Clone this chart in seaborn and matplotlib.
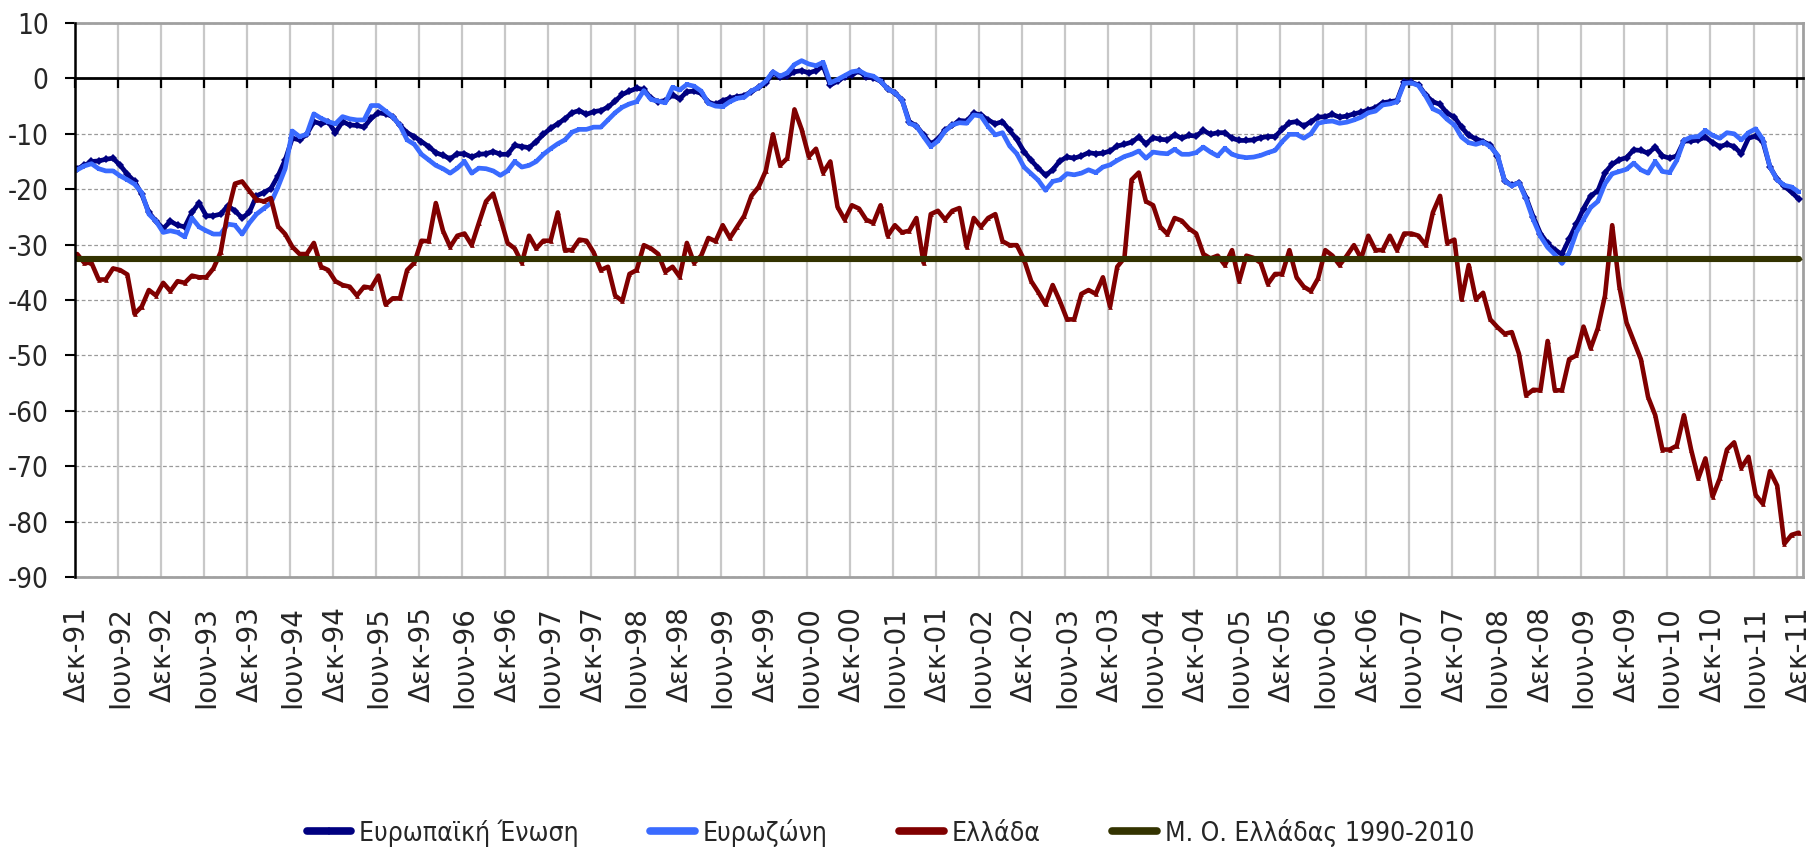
import os
import numpy as np
import pandas as pd
import matplotlib
matplotlib.use("Agg")
import matplotlib.pyplot as plt
from matplotlib import font_manager as fm
import seaborn as sns
from matplotlib.lines import Line2D

# ---------------- data (monthly, Dec-91 .. Dec-11) ----------------
eu = [
    -16.3, -15.7, -15.0, -14.9, -14.6, -14.4, -15.7, -17.3, -18.6, -20.9,
    -24.2, -25.8, -27.1, -25.8, -26.5, -26.8, -24.2, -22.5, -24.8, -24.8,
    -24.5, -23.0, -23.9, -25.2, -24.2, -21.2, -20.6, -19.9, -17.6, -14.7,
    -10.8, -11.1, -10.1, -7.8, -8.2, -7.8, -9.8, -7.8, -8.4, -8.5,
    -8.8, -7.2, -6.2, -6.4, -6.9, -8.5, -9.8, -10.5, -11.4, -12.3,
    -13.4, -13.9, -14.5, -13.6, -13.6, -14.2, -13.7, -13.6, -13.2, -13.7,
    -13.7, -12.1, -12.3, -12.5, -11.4, -10.1, -9.0, -8.2, -7.3, -6.2,
    -5.8, -6.5, -6.0, -5.8, -5.2, -4.1, -2.9, -2.3, -1.8, -2.0,
    -3.6, -4.2, -4.0, -3.0, -3.7, -2.4, -2.3, -2.7, -4.3, -4.7,
    -4.0, -3.6, -3.3, -3.1, -2.4, -1.6, -0.8, 1.0, 0.2, 0.5,
    1.2, 1.4, 1.0, 1.4, 2.2, -1.2, -0.5, 0.3, 0.7, 1.3,
    0.3, 0.1, -0.5, -1.9, -2.6, -3.9, -7.8, -8.6, -10.2, -11.8,
    -11.0, -9.3, -8.5, -7.6, -7.7, -6.3, -6.6, -7.5, -8.2, -7.8,
    -9.4, -11.0, -13.2, -14.8, -16.2, -17.5, -16.5, -14.9, -14.2, -14.4,
    -14.0, -13.4, -13.6, -13.5, -13.1, -12.2, -11.9, -11.5, -10.6, -11.8,
    -10.7, -11.0, -11.1, -10.2, -10.8, -10.3, -10.4, -9.4, -10.1, -9.8,
    -9.8, -10.8, -11.2, -11.2, -11.1, -10.7, -10.5, -10.5, -9.2, -8.0,
    -7.8, -8.6, -7.8, -7.0, -6.9, -6.5, -7.0, -6.8, -6.4, -6.1,
    -5.7, -5.3, -4.4, -4.2, -4.0, -0.6, -0.7, -1.2, -3.0, -4.2,
    -4.7, -6.3, -7.0, -8.8, -10.3, -10.9, -11.4, -12.0, -14.0, -18.5,
    -19.3, -18.8, -21.5, -25.0, -28.0, -29.8, -31.0, -31.7, -29.0, -26.3,
    -23.5, -21.2, -20.3, -17.0, -15.5, -14.7, -14.3, -12.9, -13.0, -13.5,
    -12.4, -14.0, -14.4, -14.0, -11.3, -11.3, -11.1, -10.6, -11.6, -12.3,
    -11.9, -12.3, -13.6, -10.8, -10.4, -11.4, -16.0, -18.2, -19.5, -20.5, -21.8,
]

ez = [
    -16.5, -15.8, -15.4, -16.3, -16.7, -16.7, -17.6, -18.3, -19.1, -20.6,
    -24.5, -25.8, -27.8, -27.5, -27.8, -28.6, -25.2, -26.8, -27.5, -28.1,
    -28.1, -26.3, -26.5, -28.1, -26.1, -24.5, -23.5, -22.5, -19.6, -16.3,
    -9.5, -10.5, -10.1, -6.4, -7.2, -7.8, -8.2, -6.9, -7.3, -7.5,
    -7.5, -4.9, -4.9, -5.9, -6.9, -8.5, -11.1, -11.9, -13.7, -14.7,
    -15.7, -16.3, -17.1, -16.2, -15.0, -17.1, -16.2, -16.3, -16.7, -17.5,
    -16.7, -15.0, -16.0, -15.7, -15.0, -13.7, -12.7, -11.8, -11.1, -9.7,
    -9.2, -9.2, -8.8, -8.8, -7.5, -6.2, -5.2, -4.6, -4.2, -2.2,
    -3.8, -4.1, -4.4, -1.6, -2.1, -1.1, -1.4, -2.3, -4.5, -5.0,
    -5.1, -4.2, -3.6, -3.4, -2.3, -1.6, -0.5, 1.2, 0.4, 1.0,
    2.5, 3.2, 2.6, 2.3, 2.9, -0.8, -0.2, 0.5, 1.2, 1.4,
    0.7, 0.4, -0.5, -1.9, -2.6, -3.9, -8.1, -8.6, -10.5, -12.3,
    -11.3, -9.5, -8.4, -8.0, -8.1, -6.6, -6.8, -8.7, -10.2, -9.8,
    -12.2, -13.6, -16.0, -17.2, -18.4, -20.2, -18.6, -18.3, -17.2, -17.4,
    -17.1, -16.5, -17.0, -16.0, -15.6, -14.8, -14.1, -13.7, -13.1, -14.4,
    -13.3, -13.5, -13.6, -12.8, -13.7, -13.7, -13.4, -12.4, -13.3, -14.0,
    -12.6, -13.7, -14.1, -14.3, -14.2, -13.9, -13.4, -13.0, -11.4, -10.1,
    -10.1, -10.8, -10.0, -8.1, -7.8, -7.7, -8.1, -7.9, -7.5, -7.0,
    -6.2, -5.9, -4.8, -4.6, -4.2, -0.9, -0.8, -1.3, -3.2, -5.5,
    -6.1, -7.4, -8.4, -10.6, -11.6, -11.9, -11.5, -12.3, -13.8, -18.5,
    -19.4, -18.8, -21.8, -25.5, -28.5, -30.5, -31.8, -33.4, -31.5, -27.8,
    -25.5, -23.3, -22.2, -19.0, -17.2, -16.8, -16.4, -15.3, -16.5, -17.1,
    -15.0, -16.8, -17.0, -14.8, -11.2, -10.6, -10.5, -9.4, -10.3, -10.8,
    -9.8, -10.0, -11.1, -9.8, -9.1, -11.0, -16.0, -18.3, -19.3, -19.6, -20.5,
]

greece = [
    -31.7, -33.3, -33.3, -36.3, -36.3, -34.3, -34.6, -35.4, -42.5, -41.2,
    -38.2, -39.2, -36.9, -38.4, -36.6, -36.9, -35.6, -35.9, -35.9, -34.3,
    -31.4, -24.2, -19.0, -18.6, -20.3, -21.9, -22.2, -21.6, -26.7, -28.1,
    -30.4, -31.7, -31.7, -29.7, -34.0, -34.6, -36.6, -37.3, -37.6, -39.2,
    -37.6, -37.8, -35.6, -40.8, -39.7, -39.7, -34.6, -33.3, -29.3, -29.4,
    -22.5, -27.5, -30.4, -28.4, -28.0, -30.1, -26.1, -22.2, -20.8, -25.2,
    -29.7, -30.7, -33.3, -28.4, -30.7, -29.3, -29.3, -24.2, -31.0, -31.0,
    -29.1, -29.3, -31.4, -34.6, -34.0, -39.2, -40.2, -35.3, -34.6, -30.1,
    -30.7, -31.7, -34.9, -34.0, -35.8, -29.7, -33.3, -32.0, -28.8, -29.4,
    -26.5, -28.8, -26.8, -24.8, -21.2, -19.6, -16.7, -10.1, -15.7, -14.4,
    -5.6, -9.2, -14.1, -12.7, -17.0, -15.0, -23.2, -25.5, -22.9, -23.5,
    -25.5, -26.1, -22.9, -28.4, -26.5, -27.8, -27.5, -25.2, -33.3, -24.5,
    -23.9, -25.5, -23.9, -23.4, -30.4, -25.2, -26.8, -25.2, -24.5, -29.4,
    -30.1, -30.1, -32.7, -36.6, -38.6, -40.8, -37.3, -40.2, -43.5, -43.5,
    -38.9, -38.2, -38.9, -35.9, -41.2, -34.0, -32.4, -18.3, -17.0, -22.2,
    -22.9, -26.8, -28.1, -25.2, -25.7, -27.1, -28.0, -31.7, -32.5, -32.0,
    -33.7, -31.0, -36.6, -32.0, -32.4, -33.3, -37.1, -35.3, -35.3, -31.0,
    -35.9, -37.6, -38.4, -36.1, -31.0, -32.0, -33.7, -32.0, -30.1, -32.5,
    -28.4, -31.0, -31.0, -28.4, -31.0, -28.0, -28.0, -28.4, -30.1, -24.2,
    -21.2, -29.7, -29.1, -39.9, -33.7, -39.9, -38.7, -43.5, -44.9, -46.1,
    -45.8, -49.7, -57.2, -56.2, -56.3, -47.4, -56.3, -56.3, -50.7, -50.0,
    -44.8, -48.7, -45.1, -39.2, -26.5, -37.6, -44.1, -47.4, -50.7, -57.5,
    -60.8, -67.0, -67.0, -66.3, -60.8, -67.0, -72.2, -68.6, -75.5, -72.2,
    -67.0, -65.7, -70.3, -68.3, -75.2, -76.8, -70.9, -73.5, -84.0, -82.4, -82.0,
]

greece_mean_1990_2010 = -32.6

tick_labels = [
    "Δεκ-91", "Ιουν-92", "Δεκ-92", "Ιουν-93", "Δεκ-93", "Ιουν-94", "Δεκ-94",
    "Ιουν-95", "Δεκ-95", "Ιουν-96", "Δεκ-96", "Ιουν-97", "Δεκ-97", "Ιουν-98",
    "Δεκ-98", "Ιουν-99", "Δεκ-99", "Ιουν-00", "Δεκ-00", "Ιουν-01", "Δεκ-01",
    "Ιουν-02", "Δεκ-02", "Ιουν-03", "Δεκ-03", "Ιουν-04", "Δεκ-04", "Ιουν-05",
    "Δεκ-05", "Ιουν-06", "Δεκ-06", "Ιουν-07", "Δεκ-07", "Ιουν-08", "Δεκ-08",
    "Ιουν-09", "Δεκ-09", "Ιουν-10", "Δεκ-10", "Ιουν-11", "Δεκ-11",
]

series_names = ["Ευρωπαϊκή Ένωση", "Ευρωζώνη", "Ελλάδα", "Μ. Ο. Ελλάδας 1990-2010"]
series_colors = ["#000080", "#3A6BFF", "#800000", "#333300"]

# ---------------- fonts ----------------
sns.set_theme(style="white")
plt.rcParams["font.family"] = ["DejaVu Sans"]
plt.rcParams["axes.unicode_minus"] = False

narrow_file, narrow_kind = None, None
prefs = [("LiberationSansNarrow-Regular", "lib"),
         ("DejaVuSansCondensed.ttf", "djv"),
         ("NotoSans-Condensed.", "noto"),
         ("RobotoCondensed-Regular", "rob")]
try:
    files = fm.findSystemFonts()
except Exception:
    files = []
for key, kind in prefs:
    for f in files:
        if os.path.basename(f).startswith(key):
            narrow_file, narrow_kind = f, kind
            break
    if narrow_file:
        break

sizes = {"lib": (21, 21), "djv": (20, 19), "noto": (20, 19), "rob": (21, 20), None: (19, 17)}
ytick_size, legend_size = sizes[narrow_kind]


def narrow_props(size):
    if narrow_file:
        return fm.FontProperties(fname=narrow_file, size=size)
    return fm.FontProperties(family="DejaVu Sans", size=size)


# ---------------- figure ----------------
W, H = 1810, 848
fig = plt.figure(figsize=(W / 100, H / 100), dpi=100)
fig.patch.set_facecolor("white")
ax = fig.add_axes([75 / W, 1 - 577 / H, (1803 - 75) / W, (577 - 23) / H])

n = len(eu)
month = np.arange(n)
df = pd.DataFrame({
    "month": np.tile(month, 4),
    "value": np.concatenate([eu, ez, greece, np.full(n, greece_mean_1990_2010)]),
    "series": np.repeat(series_names, n),
})

markers = ["D", "s", "^", "_"]
msizes = [3.6, 2.8, 3.4, 5]
lws = [3.4, 3.4, 3.3, 4.4]
for i, name in enumerate(series_names):
    sub = df[df["series"] == name]
    sns.lineplot(data=sub, x="month", y="value", ax=ax, color=series_colors[i],
                 lw=lws[i], marker=markers[i], markersize=msizes[i],
                 markeredgewidth=1.0 if markers[i] == "_" else 0,
                 markeredgecolor=series_colors[i], label=name, legend=False,
                 zorder=3 + i)

offset = 0.3
ax.set_xlim(-offset, n - 1 + 0.6)
ax.set_ylim(-90, 10)
ax.set_yticks(np.arange(-90, 11, 10))
ax.set_xlabel("")
ax.set_ylabel("")

# category label positions and boundaries
label_pos = np.arange(0, n, 6)
bound_pos = label_pos - offset
ax.set_xticks(label_pos)
ax.set_xticklabels(tick_labels, rotation=90, fontsize=20, family="DejaVu Sans")
ax.set_xticks(bound_pos, minor=True)
ax.tick_params(axis="x", which="both", length=0, pad=21)
ax.tick_params(axis="y", which="major", direction="out", length=7, width=1.5,
               color="black", pad=12, left=True)
for lab in ax.get_xticklabels():
    lab.set_verticalalignment("top")
for lab in ax.get_yticklabels():
    lab.set_fontproperties(narrow_props(ytick_size))

ax.grid(axis="x", which="minor", color="#c8c8c8", lw=1.6, ls="-")
ax.grid(axis="x", which="major", visible=False)
ax.grid(axis="y", which="major", color="#9a9a9a", lw=0.9, ls=(0, (3, 2)))
ax.set_axisbelow(True)

for s in ["top", "right", "bottom"]:
    ax.spines[s].set_color("#a0a0a0")
    ax.spines[s].set_linewidth(2)
ax.spines["left"].set_color("black")
ax.spines["left"].set_linewidth(1.8)
ax.spines["left"].set_zorder(10)

# horizontal category axis crossing at 0
frac0 = (0 - (-90)) / 100.0
secax = ax.secondary_xaxis(frac0)
secax.set_alignment("bottom")
secax.set_xticks(bound_pos)
secax.set_xticklabels([])
secax.tick_params(axis="x", which="major", bottom=True, direction="out",
                  length=7, width=1.6, color="black")
secax.spines["bottom"].set_color("black")
secax.spines["bottom"].set_linewidth(2.0)
secax.set_zorder(2.6)

# legend
handles = [Line2D([0], [0], color=series_colors[i], lw=5.5, marker=markers[i],
                  markersize=msizes[i], markeredgewidth=0) for i in range(4)]
fig.legend(handles, series_names, loc="center", bbox_to_anchor=(0.492, 0.018),
           ncol=4, frameon=False, prop=narrow_props(legend_size),
           handlelength=1.7, handletextpad=0.3, columnspacing=2.7)

fig.savefig("out.png", dpi=100, facecolor="white")
